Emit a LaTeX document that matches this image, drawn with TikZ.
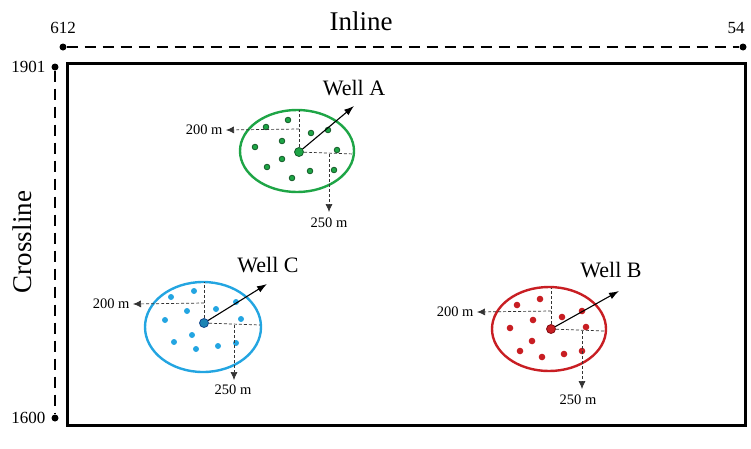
\documentclass[tikz,border=0pt]{standalone}
\usepackage{fontspec}
\setmainfont{Liberation Serif}
\usetikzlibrary{arrows.meta}
\definecolor{wgreen}{RGB}{30,165,70}
\definecolor{wgreendk}{RGB}{20,90,40}
\definecolor{wblue}{RGB}{35,165,225}
\definecolor{wbluedk}{RGB}{20,70,140}
\definecolor{wred}{RGB}{200,30,35}
\definecolor{wreddk}{RGB}{130,15,20}
\tikzset{
  frame/.style={line width=3pt},
  axisdash/.style={line width=2.6pt, dash pattern=on 11pt off 7pt},
  enddot/.style={circle, fill=black, inner sep=0pt, minimum size=7pt},
  tick/.style={font=\fontsize{17}{19}\selectfont},
  axlabel/.style={font=\fontsize{27}{30}\selectfont},
  welllabel/.style={font=\fontsize{22}{25}\selectfont},
  dist/.style={font=\fontsize{14.5}{16}\selectfont},
  guide/.style={line width=0.7pt, densely dashed, black!80},
  distarrow/.style={guide, -{Latex[length=8pt,width=7pt]}},
  wellarrow/.style={line width=1.1pt, -{Latex[length=10pt,width=7pt]}},
  ring/.style={line width=2.4pt},
}
\begin{document}
\begin{tikzpicture}[x=1pt,y=-1pt]
\useasboundingbox (0,0) rectangle (751,448);
% frame
\draw[frame] (67,63) rectangle (745,425);
% axes
\node[enddot] (i1) at (63,47) {};
\node[enddot] (i2) at (743,47) {};
\draw[axisdash] (i1) -- (i2);
\node[enddot] (c1) at (55,67) {};
\node[enddot] (c2) at (55,418) {};
\draw[axisdash] (c1) -- (c2);
\node[tick] (t612) at (63,28) {612};
\node[tick] (t54) at (736,28) {54};
\node[tick, anchor=east] (t1901) at (49,67) {1901};
\node[tick, anchor=east] (t1600) at (49,418) {1600};
\node[axlabel] (inl) at (361,21) {Inline};
\node[axlabel, rotate=90] (crl) at (22,242) {Crossline};

% ---------- Well A ----------
\draw[ring, wgreen] (297,151) ellipse (57 and 41);
\foreach \p in {(266,127),(288,120),(311,133),(328,130),(282,141),(255,147),(337,150),(282,159),(267,167),(292,178),(310,171),(334,170)}
  \filldraw[fill=wgreen, draw=wgreendk, line width=0.8pt] \p circle (2.8);
\coordinate (Atop) at (299,110);
\coordinate (Amid) at (299,129);
\coordinate (Aleft) at (226,130);
\coordinate (Aright) at (354,154);
\coordinate (Adn) at (329,154);
\coordinate (Adnend) at (329,212);
\coordinate (Atip) at (354,106);
\draw[guide] (299,152) -- (Atop);
\draw[distarrow] (Amid) -- (Aleft);
\draw[guide] (299,152) -- (Aright);
\draw[distarrow] (Adn) -- (Adnend);
\draw[wellarrow] (299,152) -- (Atip);
\node[circle, fill=wgreen, draw=wgreendk, line width=0.8pt, inner sep=0pt, minimum size=9pt] (wA) at (299,152) {};
\node[dist, anchor=east] (dA1) at (226,130) {200 m};
\node[dist] (dA2) at (329,223) {250 m};
\node[welllabel] (lA) at (354,88) {Well A};

% ---------- Well C ----------
\draw[ring, wblue] (203,327) ellipse (58 and 45);
\foreach \p in {(171,297),(194,291),(187,311),(216,309),(236,302),(165,320),(241,319),(192,335),(174,342),(196,349),(218,346),(236,343)}
  \fill[wblue] \p circle (3);
\coordinate (Ctop) at (204,282);
\coordinate (Cmid) at (204,303);
\coordinate (Cleft) at (133,304);
\coordinate (Cright) at (260,325);
\coordinate (Cdn) at (234,325);
\coordinate (Cdnend) at (234,380);
\coordinate (Ctip) at (267,284);
\draw[guide] (204,323) -- (Ctop);
\draw[distarrow] (Cmid) -- (Cleft);
\draw[guide] (204,323) -- (Cright);
\draw[distarrow] (Cdn) -- (Cdnend);
\draw[wellarrow] (204,323) -- (Ctip);
\node[circle, fill=wblue!80!black, draw=wbluedk, line width=0.8pt, inner sep=0pt, minimum size=9pt] (wC) at (204,323) {};
\node[dist, anchor=east] (dC1) at (133,304) {200 m};
\node[dist] (dC2) at (233,390) {250 m};
\node[welllabel] (lC) at (268,265) {Well C};

% ---------- Well B ----------
\draw[ring, wred] (549,329) ellipse (57 and 42);
\foreach \p in {(517,305),(540,299),(533,320),(562,317),(582,311),(510,328),(586,327),(532,341),(520,351),(542,357),(564,354),(582,351)}
  \fill[wred] \p circle (3.3);
\coordinate (Btop) at (551,288);
\coordinate (Bmid) at (551,311);
\coordinate (Bleft) at (477,312);
\coordinate (Bright) at (604,331);
\coordinate (Bdn) at (582,331);
\coordinate (Bdnend) at (582,389);
\coordinate (Btip) at (619,291);
\draw[guide] (551,329) -- (Btop);
\draw[distarrow] (Bmid) -- (Bleft);
\draw[guide] (551,329) -- (Bright);
\draw[distarrow] (Bdn) -- (Bdnend);
\draw[wellarrow] (551,329) -- (Btip);
\node[circle, fill=wred, draw=wreddk, line width=0.8pt, inner sep=0pt, minimum size=9pt] (wB) at (551,329) {};
\node[dist, anchor=east] (dB1) at (477,312) {200 m};
\node[dist] (dB2) at (578,400) {250 m};
\node[welllabel] (lB) at (611,270) {Well B};
\end{tikzpicture}
\end{document}
